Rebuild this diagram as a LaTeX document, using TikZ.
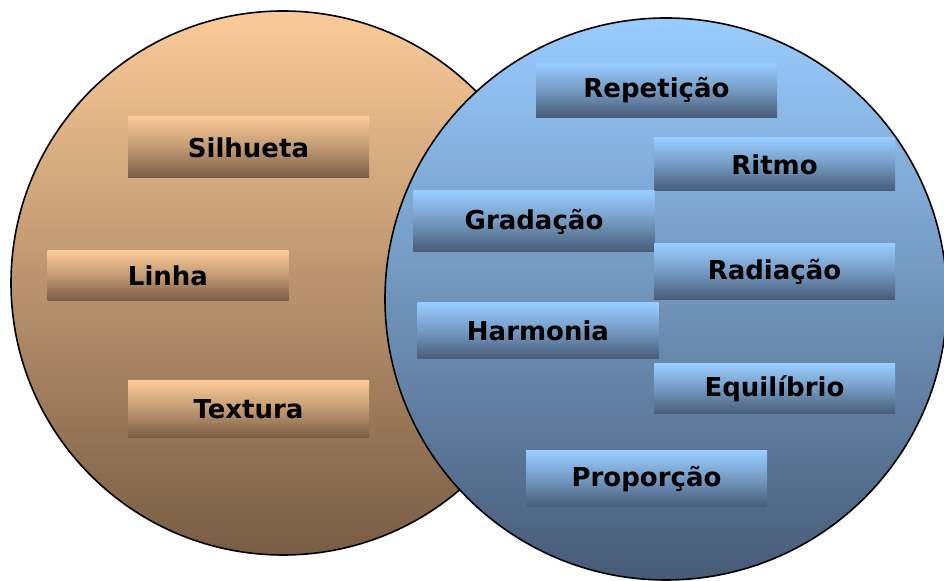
\documentclass[tikz,border=0pt]{standalone}
\usepackage{fontspec}
\setsansfont{DejaVu Sans}
\usepackage{xcolor}
\definecolor{peach}{HTML}{FBCA98}
\definecolor{umber}{HTML}{785C44}
\definecolor{sky}{HTML}{99CCFF}
\definecolor{slate}{HTML}{475B76}
\usetikzlibrary{positioning}
\tikzset{
    x=0.5pt,y=-0.5pt,
    term/.style ={rectangle, inner sep=0pt, minimum width=120.5pt,
                  font=\sffamily\bfseries\fontsize{13}{15}\selectfont},
    warm/.style ={term, top color=peach, bottom color=umber, middle color=peach!55!umber},
    cool/.style ={term, top color=sky, bottom color=slate, middle color=sky!55!slate},
    venn/.style ={draw=black, line width=0.8pt}
}

\begin{document}
\begin{tikzpicture}
      \useasboundingbox (0,0) rectangle (944,581);
      \shade[venn, top color=peach, bottom color=umber] (283,283) circle[radius=136pt];
      \shade[venn, top color=sky, bottom color=slate] (666,299) circle[radius=140.5pt];

      \node[warm, minimum height=30.5pt] (silhueta) at (248.5,147.5) {Silhueta};
      \node[warm, minimum height=25pt] (linha) at (168,276) {Linha};
      \node[warm, minimum height=28.5pt] (textura) at (248.5,409.5) {Textura};

      \node[cool, minimum height=27pt] (repeticao) at (656.5,90.5) {Repetição};
      \node[cool, minimum height=26.5pt] (ritmo) at (774.5,164.5) {Ritmo};
      \node[cool, minimum height=30.5pt] (gradacao) at (534,221.5) {Gradação};
      \node[cool, minimum height=28pt] (radiacao) at (774.5,272) {Radiação};
      \node[cool, minimum height=28pt] (harmonia) at (538,331) {Harmonia};
      \node[cool, minimum height=25pt] (equilibrio) at (774.5,389) {Equilíbrio};
      \node[cool, minimum height=28pt] (proporcao) at (646.5,479) {Proporção};
\end{tikzpicture}
\end{document}
